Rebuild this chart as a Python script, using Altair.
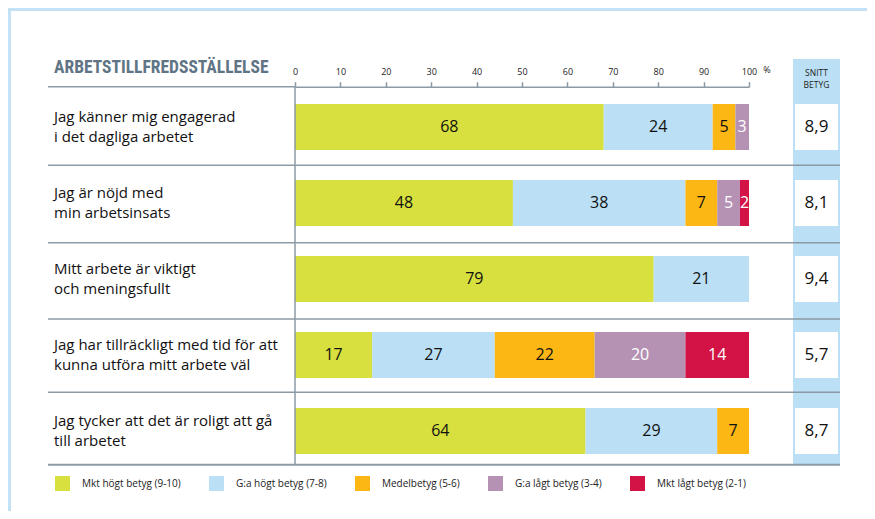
import altair as alt
import pandas as pd

# ---------------- data ----------------
statements = [
    "Jag känner mig engagerad\ni det dagliga arbetet",
    "Jag är nöjd med\nmin arbetsinsats",
    "Mitt arbete är viktigt\noch meningsfullt",
    "Jag har tillräckligt med tid för att\nkunna utföra mitt arbete väl",
    "Jag tycker att det är roligt att gå\ntill arbetet",
]
categories = [
    "Mkt högt betyg (9-10)",
    "G:a högt betyg (7-8)",
    "Medelbetyg (5-6)",
    "G:a lågt betyg (3-4)",
    "Mkt lågt betyg (2-1)",
]
colors = ["#d7e03e", "#bbdff5", "#fdb714", "#b592b4", "#d31346"]
mkt_hogt = [68, 48, 79, 17, 64]
ga_hogt = [24, 38, 21, 27, 29]
medel = [5, 7, 0, 22, 7]
ga_lagt = [3, 5, 0, 20, 0]
mkt_lagt = [0, 2, 0, 14, 0]
snitt = [8.9, 8.1, 9.4, 5.7, 8.7]
tick_values = [0, 10, 20, 30, 40, 50, 60, 70, 80, 90, 100]

series = [mkt_hogt, ga_hogt, medel, ga_lagt, mkt_lagt]

rows = []
for i, s in enumerate(statements):
    cum = 0
    for k, cat in enumerate(categories):
        v = series[k][i]
        rows.append({"statement": s, "cat": cat, "k": k, "val": v,
                     "start": cum, "end": cum + v, "mid": cum + v / 2,
                     "label": str(v) if v > 0 else ""})
        cum += v
df = pd.DataFrame(rows)
df_bars = df[df.val > 0]

df_snitt = pd.DataFrame({"statement": statements,
                         "snitt": [f"{v:.1f}".replace(".", ",") for v in snitt]})

# ---------------- styles ----------------
GRAY = "#8b9aa5"
FRAME = "#c3e2f6"
FONT = "Open Sans"
W, H = 859, 503

xscale = alt.Scale(domain=[0, 100], range=[287, 741], nice=False, zero=False)
yscale = alt.Scale(domain=statements, range=[81, 461], paddingInner=0.395, paddingOuter=0.1975)

one = alt.Data(values=[{"a": 1}])


def hrule(y, x1, x2, color=GRAY, width=1.5):
    return alt.Chart(one).mark_rule(color=color, strokeWidth=width).encode(
        x=alt.value(x1), x2=alt.value(x2), y=alt.value(y))


def vrule(x, y1, y2, color=GRAY, width=1.5):
    return alt.Chart(one).mark_rule(color=color, strokeWidth=width).encode(
        x=alt.value(x), y=alt.value(y1), y2=alt.value(y2))


frame = hrule(1.5, 0, W, FRAME, 3) + vrule(1.5, 0, H, FRAME, 3)

snitt_bg = alt.Chart(one).mark_rect(color="#bbdff5").encode(
    x=alt.value(785), x2=alt.value(832), y=alt.value(51), y2=alt.value(457))

snitt_head1 = alt.Chart(one).mark_text(
    text="SNITT", font=FONT, fontSize=8.5, color="#222222",
    align="center", baseline="middle").encode(
    x=alt.value(808.5), y=alt.value(65))
snitt_head2 = alt.Chart(one).mark_text(
    text="BETYG", font=FONT, fontSize=8.5, color="#222222",
    align="center", baseline="middle").encode(
    x=alt.value(808.5), y=alt.value(77))

snitt_box = alt.Chart(df_snitt).mark_rect(color="white").encode(
    y=alt.Y("statement:N", scale=yscale, axis=None),
    x=alt.value(787), x2=alt.value(830))

snitt_txt = alt.Chart(df_snitt).mark_text(
    font=FONT, fontSize=17, color="#111111", align="center", baseline="middle").encode(
    y=alt.Y("statement:N", scale=yscale, axis=None),
    x=alt.value(808.5), text="snitt:N")

seps = (hrule(78.7, 40, 287) + hrule(157.3, 40, 832) + hrule(234.7, 40, 832)
        + hrule(311, 40, 832) + hrule(384.3, 40, 832) + hrule(456.7, 40, 832, GRAY, 2))

title = alt.Chart(one).mark_text(
    text="ARBETSTILLFREDSSTÄLLELSE", font="Liberation Sans Narrow, Roboto Condensed, Roboto",
    fontWeight="bold", fontSize=17.5, color="#5f7585", align="left", baseline="middle").encode(
    x=alt.value(46), y=alt.value(60))

pct = alt.Chart(one).mark_text(text="%", font=FONT, fontSize=9, color="#222222",
                               align="center", baseline="middle").encode(
    x=alt.value(759), y=alt.value(62))

bars = alt.Chart(df_bars).mark_bar().encode(
    x=alt.X("start:Q", scale=xscale, title=None,
            axis=alt.Axis(orient="top", values=tick_values, offset=-78.7, grid=False,
                          domainColor=GRAY, domainWidth=1.5, tickColor=GRAY, tickWidth=1.5,
                          tickSize=5, labelFont=FONT, labelFontSize=9, labelColor="#222222",
                          labelPadding=5, labelFlush=False)),
    x2="end:Q",
    y=alt.Y("statement:N", scale=yscale, axis=None),
    color=alt.Color("cat:N", scale=alt.Scale(domain=categories, range=colors),
                    legend=alt.Legend(orient="none", legendX=47, legendY=468,
                                      direction="horizontal", title=None,
                                      symbolType="square", symbolSize=225,
                                      symbolStrokeWidth=0, symbolOpacity=1,
                                      labelFont=FONT, labelFontSize=10, labelColor="#222222",
                                      labelOffset=12, columnPadding=28, padding=0)),
)

zero_line = alt.Chart(one).mark_rule(color=GRAY, strokeWidth=1.5).encode(
    x=alt.X(datum=0, scale=xscale), y=alt.value(78.7), y2=alt.value(456.7))

bar_txt = alt.Chart(df_bars).mark_text(font=FONT, fontSize=16, align="center",
                                       baseline="middle").encode(
    x=alt.X("mid:Q", scale=xscale),
    y=alt.Y("statement:N", scale=yscale, axis=None),
    text="label:N",
    color=alt.condition("datum.k >= 3", alt.value("white"), alt.value("#111111")),
)

ylabels = alt.Chart(pd.DataFrame({"statement": statements})).mark_text(
    font=FONT, fontSize=15, lineBreak="\n", lineHeight=20, align="left",
    baseline="middle", dy=-10, color="#111111").encode(
    y=alt.Y("statement:N", scale=yscale, axis=None),
    x=alt.value(46), text="statement:N")

chart = alt.layer(
    frame, snitt_bg, snitt_head1, snitt_head2, snitt_box, snitt_txt, seps, title, pct,
    bars, zero_line, bar_txt, ylabels
).properties(
    width=W, height=H, autosize=alt.AutoSizeParams(type="none"), padding=0,
    background="white"
).configure_view(stroke=None)

chart.save("out.html", embed_options={"renderer": "svg", "actions": False})
